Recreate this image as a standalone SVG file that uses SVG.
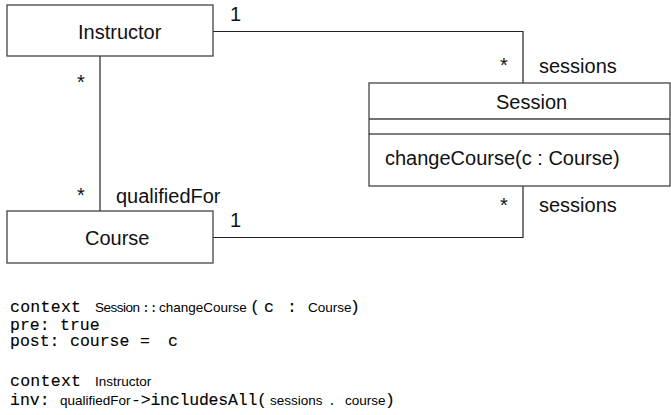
<svg xmlns="http://www.w3.org/2000/svg" width="671" height="415" viewBox="0 0 671 415">
<style>
.box{fill:#fff;stroke:#444;stroke-width:1.3}
.ln{fill:none;stroke:#222;stroke-width:1.2}
.t{font-family:"Liberation Sans",Arial,sans-serif;font-size:20px;fill:#111}
.m{font-family:"Liberation Mono","DejaVu Sans Mono",monospace;font-size:16.5px;fill:#000;stroke:#000;stroke-width:0.1}
.s{font-family:"Liberation Sans",Arial,sans-serif;font-size:13.5px;fill:#000}
.ms{font-family:"Liberation Mono",monospace;font-size:13px;fill:#000}
</style>
<rect width="671" height="415" fill="#fff"/>
<g id="connectors">
<polyline class="ln" points="213,31.5 523,31.5 523,83"/>
<line class="ln" x1="100" y1="56" x2="100" y2="211"/>
<polyline class="ln" points="213,237.5 523,237.5 523,186"/>
<text class="t" x="230" y="21">1</text>
<text class="t" x="77" y="89">*</text>
<text class="t" x="77" y="202">*</text>
<text class="t" x="116" y="203">qualifiedFor</text>
<text class="t" x="230" y="227">1</text>
<text class="t" x="500" y="72">*</text>
<text class="t" x="539" y="73">sessions</text>
<text class="t" x="500" y="212">*</text>
<text class="t" x="539" y="212">sessions</text>
</g>
<g id="Instructor">
<rect class="box" x="7" y="5" width="206" height="51"/>
<text class="t" x="78" y="39">Instructor</text>
</g>
<g id="Course">
<rect class="box" x="7" y="211" width="206" height="52"/>
<text class="t" x="85" y="245">Course</text>
</g>
<g id="Session">
<rect class="box" x="369" y="83" width="301" height="103"/>
<line class="box" x1="369" y1="119" x2="670" y2="119"/>
<line x1="369" y1="134" x2="670" y2="134" stroke="#000" stroke-width="1"/>
<text class="t" x="496" y="109">Session</text>
<text class="t" x="385" y="165">changeCourse(c : Course)</text>
</g>
<g id="ocl">
<text class="m" x="10" y="312" textLength="71">context</text>
<text class="s" x="95" y="312" textLength="45">Session</text>
<text class="ms" x="142" y="312">::</text>
<text class="s" x="159" y="312">changeCourse</text>
<text class="m" x="250" y="312">(</text>
<text class="m" x="264" y="312">c</text>
<text class="m" x="287" y="312">:</text>
<text class="s" x="308" y="312">Course</text>
<text class="m" x="350" y="312">)</text>
<text class="m" x="10" y="329.5">pre:</text>
<text class="m" x="60" y="329.5">true</text>
<text class="m" x="10" y="346">post:</text>
<text class="m" x="70" y="346">course</text>
<text class="m" x="140" y="346">=</text>
<text class="m" x="168" y="346">c</text>
<text class="m" x="10" y="386" textLength="71">context</text>
<text class="s" x="95" y="386">Instructor</text>
<text class="m" x="10" y="404.5">inv:</text>
<text class="s" x="60" y="404.5">qualifiedFor</text>
<text class="m" x="131" y="404.5" textLength="136">-&gt;includesAll(</text>
<text class="s" x="270" y="404.5">sessions</text>
<text class="ms" x="328" y="404.5">.</text>
<text class="s" x="345" y="404.5">course</text>
<text class="m" x="385" y="404.5">)</text>
</g>
</svg>
